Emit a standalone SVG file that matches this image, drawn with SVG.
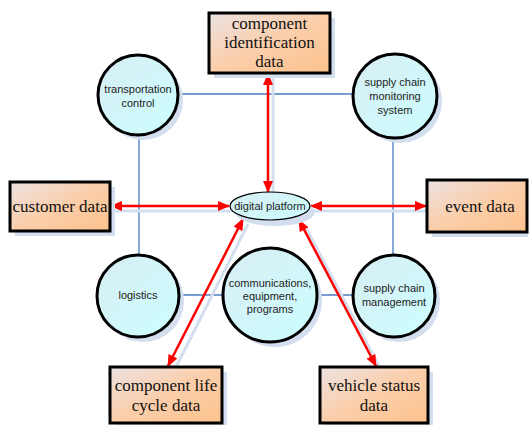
<svg xmlns="http://www.w3.org/2000/svg" width="530" height="425" viewBox="0 0 530 425">
<defs>
<linearGradient id="gBox" x1="0" y1="0" x2="1" y2="1">
<stop offset="0" stop-color="#ece2e2"/>
<stop offset="0.5" stop-color="#fbceaa"/>
<stop offset="1" stop-color="#fcc28c"/>
</linearGradient>
<linearGradient id="gCirc" x1="0" y1="0" x2="1" y2="1">
<stop offset="0" stop-color="#d8eef4"/>
<stop offset="1" stop-color="#ccfeff"/>
</linearGradient>
<marker id="ah" viewBox="0 0 12 10" refX="11" refY="5" markerWidth="12" markerHeight="10" markerUnits="userSpaceOnUse" orient="auto-start-reverse">
<path d="M0,0 L12,5 L0,10 Z" fill="#ff0000"/>
</marker>
<style>
.box{fill:url(#gBox);stroke:#000;stroke-width:3}
.shadow{fill:#d3deef}
.circ{fill:url(#gCirc);stroke:#000;stroke-width:3}
.bt{font-family:"Liberation Serif",serif;font-size:17px;fill:#111;text-anchor:middle}
.ct{font-family:"Liberation Sans",sans-serif;font-size:11px;fill:#222;text-anchor:middle}
.blue{stroke:#4a7cc0;stroke-width:1.3;fill:none}
.red{stroke:#ff0000;stroke-width:2.5;fill:none;marker-start:url(#ah);marker-end:url(#ah)}
.rshadow{stroke:#d3deef;stroke-width:3;fill:none}
</style>
</defs>
<g id="connectors">
<line class="blue" x1="177" y1="94" x2="353" y2="94"/>
<line class="blue" x1="139" y1="135" x2="139" y2="255"/>
<line class="blue" x1="393" y1="138" x2="393" y2="255"/>
<line class="blue" x1="179" y1="295" x2="223" y2="295"/>
<line class="blue" x1="317" y1="295" x2="353" y2="295"/>
<line class="rshadow" x1="273" y1="78" x2="273" y2="196"/>
<line class="rshadow" x1="115" y1="211" x2="232" y2="211"/>
<line class="rshadow" x1="314" y1="211" x2="430" y2="211"/>
<line class="rshadow" x1="248" y1="224" x2="174" y2="371"/>
<line class="rshadow" x1="305" y1="226" x2="381" y2="370"/>
<line class="red" x1="268" y1="74" x2="268" y2="192"/>
<line class="red" x1="111" y1="206" x2="229" y2="206"/>
<line class="red" x1="311" y1="206" x2="426" y2="206"/>
<line class="red" x1="243" y1="219" x2="168" y2="366"/>
<line class="red" x1="299" y1="220" x2="376" y2="366"/>
</g>
<g id="component-identification-data">
<rect class="shadow" x="214" y="18" width="121" height="60"/>
<rect class="box" x="209" y="13" width="121" height="60"/>
<text class="bt" x="269.5" y="29">component</text>
<text class="bt" x="269.5" y="48">identification</text>
<text class="bt" x="269.5" y="67">data</text>
</g>
<g id="transportation-control">
<circle class="shadow" cx="143" cy="100" r="40"/>
<circle class="circ" cx="138" cy="95" r="40"/>
<text class="ct" x="138" y="93">transportation</text>
<text class="ct" x="138" y="107">control</text>
</g>
<g id="supply-chain-monitoring-system">
<circle class="shadow" cx="400" cy="101" r="42"/>
<circle class="circ" cx="395" cy="96" r="42"/>
<text class="ct" x="395" y="86">supply chain</text>
<text class="ct" x="395" y="100">monitoring</text>
<text class="ct" x="395" y="114">system</text>
</g>
<g id="customer-data">
<rect class="shadow" x="15" y="187" width="100" height="49"/>
<rect class="box" x="10" y="182" width="100" height="49"/>
<text class="bt" x="60" y="212">customer data</text>
</g>
<g id="event-data">
<rect class="shadow" x="432" y="185" width="96" height="52"/>
<rect class="box" x="427" y="180" width="100" height="52"/>
<text class="bt" x="480" y="212">event data</text>
</g>
<g id="digital-platform">
<ellipse class="shadow" cx="275" cy="212" rx="40" ry="14"/>
<ellipse cx="270" cy="206" rx="40" ry="14" fill="url(#gCirc)" stroke="#000" stroke-width="1.2"/>
<text class="ct" x="270" y="210">digital platform</text>
</g>
<g id="logistics">
<circle class="shadow" cx="143" cy="301" r="41"/>
<circle class="circ" cx="138" cy="296" r="41"/>
<text class="ct" x="138" y="299">logistics</text>
</g>
<g id="communications">
<circle class="shadow" cx="275" cy="300" r="47"/>
<circle class="circ" cx="270" cy="295" r="47"/>
<text class="ct" x="270" y="287">communications,</text>
<text class="ct" x="270" y="300">equipment,</text>
<text class="ct" x="270" y="313">programs</text>
</g>
<g id="supply-chain-management">
<circle class="shadow" cx="399" cy="301" r="41"/>
<circle class="circ" cx="394" cy="296" r="41"/>
<text class="ct" x="394" y="292">supply chain</text>
<text class="ct" x="394" y="306">management</text>
</g>
<g id="component-life-cycle-data">
<rect class="shadow" x="115" y="372" width="112" height="56"/>
<rect class="box" x="110" y="367" width="112" height="56"/>
<text class="bt" x="166" y="391">component life</text>
<text class="bt" x="166" y="411">cycle data</text>
</g>
<g id="vehicle-status-data">
<rect class="shadow" x="325" y="372" width="108" height="56"/>
<rect class="box" x="320" y="367" width="108" height="56"/>
<text class="bt" x="374" y="391">vehicle status</text>
<text class="bt" x="374" y="411">data</text>
</g>
</svg>
